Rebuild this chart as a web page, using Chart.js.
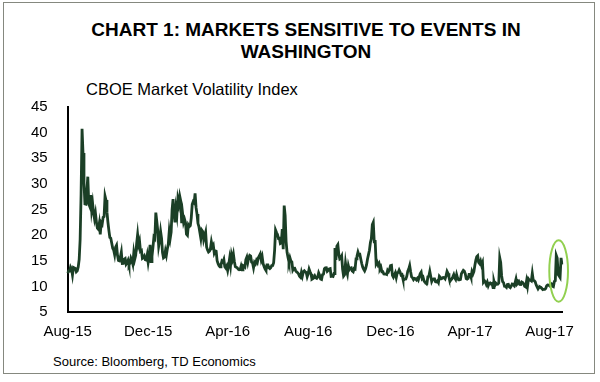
<!DOCTYPE html>
<html>
<head>
<meta charset="utf-8">
<script src="https://cdn.jsdelivr.net/npm/chart.js"></script>
<style>
  html, body { margin: 0; padding: 0; background: #fff; }
  body { width: 600px; height: 382px; position: relative; overflow: hidden; font-family: "Liberation Sans", Arial, sans-serif; }
  #frame { position: absolute; left: 3px; top: 2px; width: 592px; height: 372px; border: 1px solid #85887f; box-sizing: border-box; }
  #title { position: absolute; left: 6px; top: 19px; width: 600px; text-align: center; font-weight: bold; font-size: 19px; line-height: 22px; color: #000; }
  #subtitle { position: absolute; left: 86px; top: 80px; font-size: 16.5px; line-height: 18px; color: #000; }
  #source { position: absolute; left: 53px; top: 354px; font-size: 13px; line-height: 15px; color: #000; }
  #wrap { position: absolute; left: 0; top: 86px; width: 600px; height: 258px; }
</style>
</head>
<body>
<div id="frame"></div>
<div id="title">CHART 1: MARKETS SENSITIVE TO EVENTS IN<br>WASHINGTON</div>
<div id="subtitle">CBOE Market Volatility Index</div>
<div id="source">Source: Bloomberg, TD Economics</div>
<div id="wrap"><canvas id="myChart"></canvas></div>

<script>
const months = ['Aug-15', 'Sep-15', 'Oct-15', 'Nov-15', 'Dec-15', 'Jan-16', 'Feb-16', 'Mar-16', 'Apr-16',
  'May-16', 'Jun-16', 'Jul-16', 'Aug-16', 'Sep-16', 'Oct-16', 'Nov-16', 'Dec-16', 'Jan-17', 'Feb-17',
  'Mar-17', 'Apr-17', 'May-17', 'Jun-17', 'Jul-17', 'Aug-17']

const tickMonths = ['Aug-15', 'Dec-15', 'Apr-16', 'Aug-16', 'Dec-16', 'Apr-17', 'Aug-17']

// daily closes, one inner array per month
const vix = [
  [12.56, 13.00, 13.00, 13.77, 13.39, 12.23, 13.71, 13.61, 13.49, 12.83, 13.02, 13.79, 15.25, 19.14, 28.03, 40.74, 36.02, 30.32, 26.10, 26.05, 28.43],
  [31.40, 26.09, 25.61, 27.80, 24.90, 26.23, 24.37, 23.20, 24.25, 22.54, 21.35, 21.14, 22.28, 20.14, 22.44, 22.13, 23.47, 23.62, 27.63, 26.83, 24.50],
  [22.55, 20.94, 19.54, 19.40, 18.40, 17.42, 17.08, 16.17, 17.67, 18.03, 16.05, 15.05, 14.98, 15.75, 16.70, 14.45, 14.46, 15.29, 15.43, 14.33, 14.61, 15.07],
  [14.15, 14.54, 15.51, 15.05, 14.33, 16.52, 15.29, 16.06, 18.37, 20.08, 18.16, 18.84, 16.85, 16.99, 15.47, 15.62, 15.93, 15.19, 15.12, 16.13],
  [14.67, 15.91, 18.11, 14.81, 15.84, 17.60, 19.61, 19.34, 24.39, 22.73, 20.95, 17.86, 18.94, 20.70, 19.34, 16.60, 15.57, 15.74, 16.91, 16.08, 17.29, 18.21],
  [20.70, 19.34, 20.59, 24.99, 27.01, 24.30, 22.47, 25.22, 23.95, 27.02, 26.05, 27.59, 26.69, 22.34, 24.15, 22.50, 23.11, 22.42, 20.20],
  [19.98, 21.98, 21.65, 21.84, 23.38, 26.00, 26.54, 26.29, 28.14, 25.40, 24.11, 22.31, 21.64, 20.53, 19.38, 20.98, 20.72, 19.11, 19.81, 20.55],
  [17.70, 17.09, 16.70, 16.86, 17.35, 18.67, 17.72, 18.05, 16.50, 16.92, 16.84, 14.99, 14.44, 14.02, 13.79, 14.17, 14.94, 14.74, 15.24, 13.82, 13.56, 13.95],
  [13.10, 14.12, 15.42, 14.09, 16.16, 15.36, 16.26, 14.85, 13.84, 13.72, 13.62, 13.35, 13.24, 13.28, 13.95, 13.22, 14.08, 13.96, 13.77, 15.22, 15.70],
  [14.68, 15.60, 16.05, 15.91, 14.72, 14.57, 13.63, 14.69, 14.41, 15.04, 14.68, 15.57, 15.95, 16.33, 15.20, 15.82, 14.42, 13.90, 13.43, 13.12, 14.19],
  [14.20, 13.63, 13.47, 13.65, 14.05, 14.08, 14.64, 17.03, 20.97, 20.50, 20.14, 19.37, 19.41, 18.37, 18.48, 21.17, 17.25, 25.76, 23.85, 18.75, 16.64, 15.63],
  [14.77, 15.58, 14.96, 14.76, 13.20, 13.54, 13.55, 13.04, 12.82, 12.67, 12.44, 11.97, 11.77, 12.74, 12.02, 12.87, 13.05, 12.83, 12.72, 11.87],
  [12.44, 13.37, 12.86, 12.42, 11.39, 11.50, 11.66, 12.05, 11.68, 11.55, 11.81, 12.64, 12.19, 11.43, 11.34, 12.27, 12.38, 13.45, 13.63, 13.65, 12.94, 13.12, 13.42],
  [13.48, 11.98, 12.02, 11.94, 12.51, 17.50, 15.16, 17.85, 18.14, 16.30, 15.37, 15.53, 15.92, 13.30, 12.02, 12.29, 14.50, 13.10, 12.39, 14.02, 13.29],
  [13.57, 13.63, 12.99, 12.84, 13.48, 13.38, 15.36, 15.91, 16.69, 16.12, 16.21, 15.28, 14.41, 13.75, 13.34, 13.02, 13.46, 14.24, 15.36, 16.19, 17.06],
  [18.56, 19.32, 22.08, 22.51, 18.71, 18.74, 14.38, 14.74, 14.17, 14.48, 13.37, 13.72, 12.85, 12.85, 12.42, 12.41, 12.43, 12.34, 13.15, 12.90, 13.33],
  [14.07, 14.12, 12.14, 11.79, 12.22, 12.64, 11.75, 12.64, 12.72, 13.19, 12.79, 12.20, 12.29, 11.45, 11.27, 11.43, 11.44, 11.99, 12.95, 13.37, 14.04],
  [12.85, 11.85, 11.67, 11.32, 11.56, 11.49, 11.26, 11.54, 11.23, 11.87, 12.48, 12.78, 11.54, 11.77, 11.07, 10.81, 10.63, 10.58, 11.88, 11.99],
  [12.92, 11.93, 10.97, 11.37, 11.45, 11.45, 10.88, 10.85, 11.07, 10.74, 11.97, 11.76, 11.49, 11.57, 11.74, 11.71, 11.47, 12.09, 12.92],
  [12.54, 11.81, 10.96, 11.24, 11.45, 11.86, 12.30, 11.66, 11.35, 12.30, 11.63, 11.28, 11.28, 11.34, 12.47, 12.81, 13.12, 12.96, 12.50, 11.53, 11.42, 11.54, 12.37],
  [12.38, 11.79, 12.89, 12.39, 12.87, 14.05, 15.07, 15.77, 15.96, 14.66, 14.42, 14.93, 14.15, 14.63, 10.84, 11.10, 10.85, 10.36, 10.82],
  [10.11, 10.59, 10.68, 10.46, 10.57, 9.77, 10.96, 10.21, 10.60, 10.40, 10.42, 10.65, 15.59, 14.66, 12.04, 10.93, 10.72, 10.02, 9.99, 9.81, 10.38, 10.41],
  [9.89, 9.75, 10.07, 10.45, 10.39, 10.16, 10.70, 11.46, 10.42, 10.64, 10.90, 10.38, 10.37, 10.86, 10.75, 10.48, 10.02, 9.90, 11.06, 10.03, 11.44, 11.18],
  [11.22, 11.07, 12.54, 11.19, 11.11, 10.89, 10.30, 9.90, 9.51, 9.82, 9.89, 9.79, 9.58, 9.36, 9.43, 9.43, 9.60, 10.11, 10.29, 10.26],
  [10.09, 10.28, 10.44, 10.03, 9.93, 10.96, 11.11, 16.04, 15.51, 12.33, 12.04, 11.74, 15.55, 14.26]
]

// the circled stretch at the end: last days of the series, value range
const circleDays = 8
const circleRange = [7, 19]

const labels = vix.flatMap((m, i) => m.map((v, j) => j === 0 ? months[i] : ''))
const values = vix.flat()

const circlePlugin = {
  id: 'circle',
  afterDatasetsDraw(chart) {
    const x = chart.scales.x, y = chart.scales.y
    const x0 = x.getPixelForValue(values.length - circleDays)
    const x1 = x.getPixelForValue(values.length - 1)
    const y0 = y.getPixelForValue(circleRange[1])
    const y1 = y.getPixelForValue(circleRange[0])
    const ctx = chart.ctx
    ctx.save()
    ctx.strokeStyle = '#92d050'
    ctx.lineWidth = 2
    ctx.beginPath()
    ctx.ellipse((x0 + x1) / 2, (y0 + y1) / 2, (x1 - x0) / 2 + 6, (y1 - y0) / 2, 0, 0, Math.PI * 2)
    ctx.stroke()
    ctx.restore()
  }
}

const myChart = new Chart(document.getElementById('myChart'), {
  type: 'line',
  data: {
    labels: labels,
    datasets: [{
      label: 'VIX',
      data: values,
      borderColor: '#1b3f26',
      borderWidth: 2.8,
      pointRadius: 0,
      tension: 0
    }]
  },
  options: {
    responsive: true,
    maintainAspectRatio: false,
    animation: false,
    layout: { padding: { left: 19, right: 38, top: 3, bottom: 0 } },
    plugins: { legend: { display: false }, tooltip: { enabled: false } },
    scales: {
      x: {
        grid: { display: false },
        border: { color: '#000', width: 2 },
        ticks: {
          autoSkip: false,
          maxRotation: 0,
          minRotation: 0,
          padding: 3,
          color: '#000',
          font: { family: 'Liberation Sans', size: 15 },
          callback: function (value) {
            const l = this.getLabelForValue(value)
            return tickMonths.includes(l) ? l : null
          }
        }
      },
      y: {
        min: 5,
        max: 45,
        grid: { display: false },
        border: { color: '#000', width: 2 },
        ticks: {
          stepSize: 5,
          padding: 12,
          color: '#000',
          font: { family: 'Liberation Sans', size: 15 }
        }
      }
    }
  },
  plugins: [circlePlugin]
})
</script>
</body>
</html>
